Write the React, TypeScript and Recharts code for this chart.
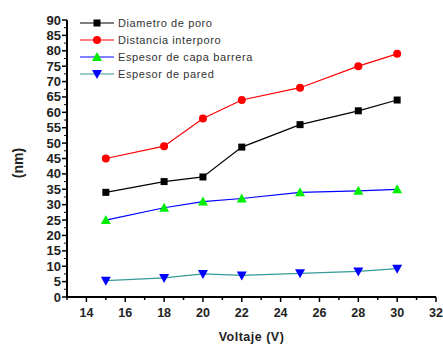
import React from 'react';
import { LineChart, Line, XAxis, YAxis } from 'recharts';

const voltaje = [15, 18, 20, 22, 25, 28, 30];
const diametroPoro = [34, 37.5, 39, 48.7, 56, 60.5, 64];
const distanciaInterporo = [45, 49, 58, 64, 68, 75, 79];
const espesorCapa = [25, 29, 31, 32, 34, 34.5, 35];
const espesorPared = [5.3, 6.2, 7.5, 7, 7.7, 8.3, 9.2];

const xTicks = [13, 14, 15, 16, 17, 18, 19, 20, 21, 22, 23, 24, 25, 26, 27, 28, 29, 30, 31, 32];
const yTicks = [0, 5, 10, 15, 20, 25, 30, 35, 40, 45, 50, 55, 60, 65, 70, 75, 80, 85, 90];

const data = voltaje.map((v, i) => ({
  v,
  diametro: diametroPoro[i],
  distancia: distanciaInterporo[i],
  capa: espesorCapa[i],
  pared: espesorPared[i],
}));

const font = '"Liberation Sans", Arial, sans-serif';

const series = [
  { key: 'diametro', name: 'Diametro de poro', stroke: '#000000', marker: 'square', fill: '#000000' },
  { key: 'distancia', name: 'Distancia interporo', stroke: '#ff0000', marker: 'circle', fill: '#ff0000' },
  { key: 'capa', name: 'Espesor de capa barrera', stroke: '#0000ff', marker: 'up', fill: '#00ee00' },
  { key: 'pared', name: 'Espesor de pared', stroke: '#339999', marker: 'down', fill: '#0000ff' },
];

function Marker({ cx, cy, type, fill }: any) {
  if (cx == null || cy == null) return null;
  if (type === 'square') return <rect x={cx - 3.5} y={cy - 3.5} width={7} height={7} fill={fill} />;
  if (type === 'circle') return <circle cx={cx} cy={cy} r={4} fill={fill} />;
  if (type === 'up')
    return <polygon points={`${cx},${cy - 5} ${cx - 5},${cy + 4} ${cx + 5},${cy + 4}`} fill={fill} />;
  return <polygon points={`${cx},${cy + 5} ${cx - 5},${cy - 4} ${cx + 5},${cy - 4}`} fill={fill} />;
}

function XTick({ x, payload }: any) {
  const major = payload.value % 2 === 0;
  const axisY = 297;
  return (
    <g>
      <line x1={x} y1={axisY} x2={x} y2={axisY + (major ? 5 : 3)} stroke="#000" strokeWidth={1.5} />
      {major && (
        <text x={x} y={axisY + 20} textAnchor="middle" fontFamily={font} fontWeight="bold" fontSize={12.5} fill="#222">
          {payload.value}
        </text>
      )}
    </g>
  );
}

function YTick({ y, payload }: any) {
  const axisX = 67;
  return (
    <g>
      <line x1={axisX} y1={y} x2={axisX - 5} y2={y} stroke="#000" strokeWidth={1.5} />
      {payload.value > 0 && (
        <line x1={axisX} y1={y + 7.7} x2={axisX - 3} y2={y + 7.7} stroke="#000" strokeWidth={1} />
      )}
      <text x={axisX - 6} y={y + 4.5} textAnchor="end" fontFamily={font} fontWeight="bold" fontSize={13} fill="#222">
        {payload.value}
      </text>
    </g>
  );
}

function YLabel() {
  return (
    <text x={23} y={163} transform="rotate(-90 23 163)" textAnchor="middle" fontFamily={font} fontWeight="bold" fontSize={14} fill="#222">
      (nm)
    </text>
  );
}

function LegendBox() {
  return (
    <svg width={200} height={70} style={{ position: 'absolute', left: 78, top: 14 }}>
      {series.map((s, i) => {
        const cy = 9 + i * 17;
        return (
          <g key={s.key}>
            <line x1={2} y1={cy} x2={36} y2={cy} stroke={s.stroke} strokeWidth={1.2} />
            <Marker cx={19} cy={cy} type={s.marker} fill={s.fill} />
            <text x={40} y={cy + 4} fontFamily={font} fontSize={11} letterSpacing={0.6} fill="#333">
              {s.name}
            </text>
          </g>
        );
      })}
    </svg>
  );
}

export default function App() {
  return (
    <div style={{ position: 'absolute', left: 0, top: 0, background: '#fff' }}>
      <LineChart width={443} height={346} data={data} margin={{ top: 20, right: 7, left: 10, bottom: 19 }}>
        <XAxis
          dataKey="v"
          type="number"
          domain={[13, 32]}
          ticks={xTicks}
          interval={0}
          tick={<XTick />}
          tickLine={false}
          axisLine={{ stroke: '#000', strokeWidth: 2 }}
          height={30}
          label={{ value: 'Voltaje (V)', position: 'insideBottom', offset: -14, fontFamily: font, fontWeight: 'bold', fontSize: 12.5, fill: '#222', letterSpacing: 0.5 }}
        />
        <YAxis
          type="number"
          domain={[0, 90]}
          ticks={yTicks}
          interval={0}
          width={57}
          tick={<YTick />}
          tickLine={false}
          axisLine={{ stroke: '#000', strokeWidth: 2 }}
          label={<YLabel />}
        />
        {series.map((s) => (
          <Line
            key={s.key}
            dataKey={s.key}
            name={s.name}
            stroke={s.stroke}
            strokeWidth={1.2}
            isAnimationActive={false}
            dot={(p: any) => <Marker key={`${s.key}-${p.index}`} cx={p.cx} cy={p.cy} type={s.marker} fill={s.fill} />}
            activeDot={false}
          />
        ))}
      </LineChart>
      <LegendBox />
    </div>
  );
}
